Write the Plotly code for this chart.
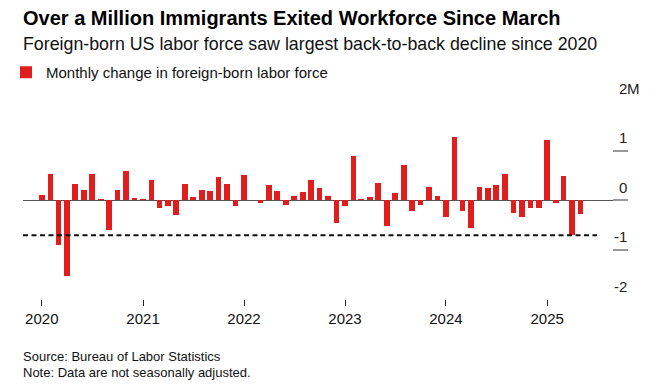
import plotly.graph_objects as go

# ---- data ----
months = [f"{y}-{m:02d}-01" for y in range(2020, 2026) for m in range(1, 13)][:65]
change_m = [
    0.10, 0.53, -0.90, -1.54, 0.33, 0.20, 0.52, 0.01, -0.61, 0.21, 0.58, 0.03,   # 2020
    0.02, 0.40, -0.17, -0.13, -0.31, 0.33, 0.07, 0.21, 0.18, 0.46, 0.33, -0.13,  # 2021
    0.50, 0.00, -0.06, 0.30, 0.19, -0.10, 0.09, 0.17, 0.40, 0.25, 0.09, -0.46,   # 2022
    -0.12, 0.88, 0.02, 0.07, 0.34, -0.52, 0.14, 0.70, -0.22, -0.10, 0.27, 0.09,  # 2023
    -0.35, 1.28, -0.22, -0.56, 0.27, 0.24, 0.30, 0.53, -0.27, -0.34, -0.16, -0.16,  # 2024
    1.21, -0.06, 0.48, -0.71, -0.29,                                             # 2025
]
year_ticks = ["2020-01-01", "2021-01-01", "2022-01-01", "2023-01-01", "2024-01-01", "2025-01-01"]
year_labels = ["2020", "2021", "2022", "2023", "2024", "2025"]
y_ticks = [2, 1, 0, -1, -2]
y_labels = ["2", "1", "0", "-1", "-2"]

title = "Over a Million Immigrants Exited Workforce Since March"
subtitle = "Foreign-born US labor force saw largest back-to-back decline since 2020"
legend_name = "Monthly change in foreign-born labor force"
source = "Source: Bureau of Labor Statistics"
note = "Note: Data are not seasonally adjusted."

# ---- layout constants ----
W, H = 658, 389
L, R, T, B = 23, 30, 101, 90
X_RANGE = ["2019-10-25", "2025-10-20"]
Y_RANGE = [-2, 2]
RED = "#e01e1e"
FONT = "Liberation Sans, Arial, sans-serif"
DAY_MS = 86400000


def py(px):
    """container pixel (from top) -> paper y"""
    return (H - B - px) / (H - T - B)


def px_x(px):
    return (px - L) / (W - L - R)


fig = go.Figure()
fig.add_trace(go.Bar(
    x=months, y=change_m, name=legend_name,
    marker=dict(color=RED, line=dict(width=0)),
    width=20.6 * DAY_MS, showlegend=True,
))

# dashed reference line at the latest low (April 2025)
low_val = change_m[-2]
fig.add_shape(type="line", xref="x", yref="y", x0=X_RANGE[0], x1="2025-06-30",
              y0=low_val, y1=low_val, line=dict(color="#111111", width=2, dash="5px,3.5px"),
              layer="above")

# y tick labels (sit above the ticks, right side)
for v, lab in zip(y_ticks, y_labels):
    fig.add_annotation(x=1.0, xref="paper", y=v, yref="y", text=lab, showarrow=False,
                       xanchor="right", yanchor="middle", yshift=13, xshift=1,
                       font=dict(family=FONT, size=15, color="#222222"))
fig.add_annotation(x=1.0, xref="paper", y=y_ticks[0], yref="y", text="M", showarrow=False,
                   xanchor="left", yanchor="middle", yshift=13, xshift=-3,
                   font=dict(family=FONT, size=15, color="#222222"))

# title block
fig.add_annotation(x=px_x(21), xref="paper", y=py(18), yref="paper", text=f"<b>{title}</b>",
                   showarrow=False, xanchor="left", yanchor="middle",
                   font=dict(family=FONT, size=20, color="#000000"))
fig.add_annotation(x=px_x(21), xref="paper", y=py(44), yref="paper", text=subtitle,
                   showarrow=False, xanchor="left", yanchor="middle",
                   font=dict(family=FONT, size=17.8, color="#111111"))
fig.add_annotation(x=px_x(21), xref="paper", y=py(356), yref="paper", text=source,
                   showarrow=False, xanchor="left", yanchor="middle",
                   font=dict(family=FONT, size=13, color="#111111"))
fig.add_annotation(x=px_x(21), xref="paper", y=py(372), yref="paper", text=note,
                   showarrow=False, xanchor="left", yanchor="middle",
                   font=dict(family=FONT, size=13, color="#111111"))

fig.update_layout(
    width=W, height=H,
    margin=dict(l=L, r=R, t=T, b=B, pad=0),
    paper_bgcolor="white", plot_bgcolor="white",
    font=dict(family=FONT, size=14, color="#111111"),
    bargap=0,
    showlegend=True,
    legend=dict(xref="container", yref="container", x=6 / W, y=1 - 56 / H,
                xanchor="left", yanchor="top", orientation="h",
                font=dict(family=FONT, size=15, color="#111111"),
                bgcolor="rgba(0,0,0,0)", borderwidth=0,
                itemclick=False, itemdoubleclick=False),
    xaxis=dict(type="date", range=X_RANGE, tickvals=year_ticks, ticktext=year_labels,
               ticks="outside", ticklen=6, tickwidth=1.2, tickcolor="#222222",
               showgrid=False, showline=False, zeroline=False,
               tickfont=dict(family=FONT, size=15, color="#111111"), fixedrange=True),
    yaxis=dict(range=Y_RANGE, side="right", tickvals=y_ticks, showticklabels=False,
               ticks="inside", ticklen=15, tickwidth=1.5, tickcolor="#999999",
               showgrid=False, showline=False,
               zeroline=True, zerolinecolor="#555555", zerolinewidth=1.3,
               fixedrange=True),
)

fig.write_html("out.html", config={"displayModeBar": False},
               post_script="document.body.style.margin='0';")
